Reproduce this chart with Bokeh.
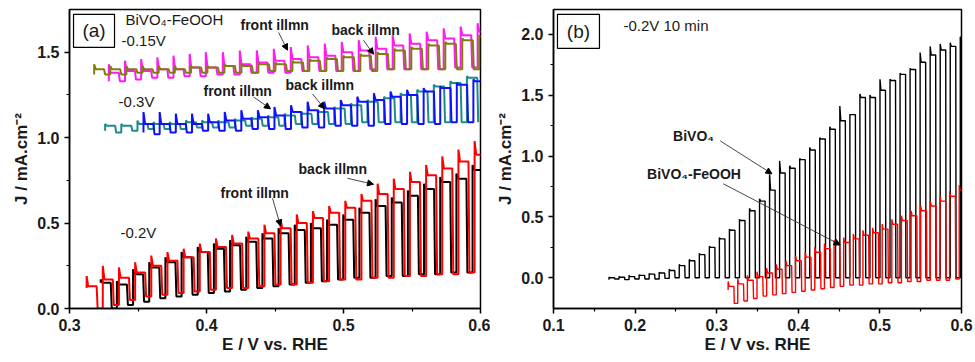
from bokeh.plotting import figure
from bokeh.models import FixedTicker, PrintfTickFormatter, Label, Arrow, NormalHead, Range1d
from bokeh.layouts import row
from bokeh.embed import file_html
from bokeh.resources import INLINE

# ---------------- Panel (a) data: per chopping cycle (light-on potential, dark, spike, plateau) ----------------
RA_on = [0.3125, 0.3243, 0.3361, 0.3479, 0.3597, 0.3715, 0.3833, 0.3951, 0.4069, 0.4187, 0.4305, 0.4423, 0.4541,
         0.4659, 0.4777, 0.4895, 0.5013, 0.5131, 0.5249, 0.5367, 0.5485, 0.5603, 0.5721, 0.5839, 0.5957]
RA_dark = [0.12, 0.00, 0.02, 0.05, 0.07, 0.08, 0.09, 0.10, 0.11, 0.12, 0.12, 0.13, 0.14, 0.14, 0.15, 0.16, 0.17,
           0.17, 0.18, 0.18, 0.19, 0.19, 0.20, 0.20, 0.21]
RA_peak = [0.19, 0.25, 0.24, 0.27, 0.31, 0.33, 0.35, 0.38, 0.41, 0.43, 0.45, 0.49, 0.52, 0.55, 0.57, 0.60, 0.63,
           0.67, 0.73, 0.76, 0.80, 0.84, 0.89, 0.93, 0.98]
RA_top = [0.13, 0.17, 0.18, 0.21, 0.25, 0.28, 0.30, 0.33, 0.36, 0.38, 0.41, 0.44, 0.47, 0.50, 0.53, 0.56, 0.59,
          0.63, 0.67, 0.70, 0.74, 0.78, 0.82, 0.86, 0.90]

BA_on = [0.3228, 0.3346, 0.3464, 0.3582, 0.3700, 0.3818, 0.3936, 0.4054, 0.4172, 0.4290, 0.4408, 0.4526, 0.4644,
         0.4762, 0.4880, 0.4998, 0.5116, 0.5234, 0.5352, 0.5470, 0.5588, 0.5706, 0.5824, 0.5942]
BA_dark = [0.15, 0.00, 0.02, 0.04, 0.06, 0.07, 0.08, 0.09, 0.10, 0.11, 0.12, 0.13, 0.14, 0.15, 0.16, 0.17, 0.18,
           0.18, 0.19, 0.19, 0.20, 0.20, 0.21, 0.21]
BA_peak = [0.17, 0.16, 0.23, 0.27, 0.30, 0.33, 0.36, 0.38, 0.40, 0.42, 0.44, 0.47, 0.49, 0.50, 0.52, 0.55, 0.59,
           0.64, 0.65, 0.69, 0.73, 0.77, 0.79, 0.84]
BA_top = [0.15, 0.14, 0.20, 0.24, 0.27, 0.30, 0.33, 0.35, 0.37, 0.39, 0.41, 0.44, 0.46, 0.47, 0.49, 0.52, 0.56,
          0.60, 0.62, 0.66, 0.70, 0.74, 0.76, 0.81]

MA_on = [0.3287, 0.3405, 0.3523, 0.3641, 0.3759, 0.3877, 0.3995, 0.4119, 0.4243, 0.4367, 0.4491, 0.4615, 0.4739,
         0.4863, 0.4987, 0.5111, 0.5235, 0.5359, 0.5483, 0.5607, 0.5731, 0.5855, 0.5979]
MA_dark = [1.33, 1.33, 1.34, 1.35, 1.35, 1.36, 1.36, 1.37, 1.37, 1.38, 1.38, 1.38, 1.39, 1.39, 1.39, 1.39, 1.40,
           1.40, 1.40, 1.40, 1.40, 1.41, 1.41]
MA_peak = [1.43, 1.45, 1.46, 1.47, 1.48, 1.49, 1.50, 1.50, 1.51, 1.51, 1.52, 1.53, 1.54, 1.55, 1.56, 1.57, 1.59,
           1.60, 1.61, 1.62, 1.64, 1.65, 1.67]
MA_top = [1.38, 1.39, 1.39, 1.40, 1.40, 1.41, 1.41, 1.42, 1.43, 1.44, 1.45, 1.46, 1.47, 1.48, 1.50, 1.51, 1.52,
          1.54, 1.55, 1.57, 1.58, 1.60, 1.62]

OA_on = [0.3180, 0.3297, 0.3415, 0.3533, 0.3651, 0.3769, 0.3887, 0.4007, 0.4131, 0.4255, 0.4379, 0.4503, 0.4627,
         0.4751, 0.4875, 0.4999, 0.5123, 0.5247, 0.5371, 0.5495, 0.5619, 0.5743, 0.5867, 0.5991]
OA_dark = [1.37, 1.37, 1.37, 1.38, 1.38, 1.38, 1.38, 1.38, 1.38, 1.38, 1.38, 1.39, 1.39, 1.39, 1.39, 1.39, 1.39,
           1.39, 1.40, 1.40, 1.40, 1.40, 1.40, 1.40]
OA_peak = [1.43, 1.42, 1.42, 1.42, 1.42, 1.42, 1.42, 1.42, 1.43, 1.43, 1.44, 1.44, 1.45, 1.46, 1.47, 1.48, 1.49,
           1.50, 1.52, 1.53, 1.55, 1.56, 1.58, 1.60]
OA_top = [1.40, 1.40, 1.40, 1.40, 1.40, 1.40, 1.41, 1.41, 1.42, 1.42, 1.43, 1.43, 1.44, 1.45, 1.46, 1.47, 1.48,
          1.49, 1.51, 1.52, 1.54, 1.55, 1.57, 1.59]

TA_on = [0.3260, 0.3378, 0.3496, 0.3614, 0.3732, 0.3850, 0.3968, 0.4086, 0.4207, 0.4328, 0.4449, 0.4570, 0.4691,
         0.4812, 0.4933, 0.5054, 0.5175, 0.5296, 0.5417, 0.5538, 0.5659, 0.5780, 0.5901]
TA_dark = [1.04, 1.03, 1.04, 1.05, 1.05, 1.05, 1.06, 1.06, 1.06, 1.07, 1.07, 1.07, 1.08, 1.08, 1.08, 1.08, 1.09,
           1.09, 1.09, 1.09, 1.09, 1.09, 1.09]
TA_peak = [1.08, 1.08, 1.10, 1.09, 1.09, 1.10, 1.10, 1.10, 1.11, 1.12, 1.13, 1.14, 1.15, 1.16, 1.18, 1.20, 1.22,
           1.24, 1.26, 1.28, 1.31, 1.33, 1.36]
TA_top = [1.07, 1.07, 1.08, 1.08, 1.08, 1.09, 1.09, 1.09, 1.10, 1.11, 1.12, 1.13, 1.14, 1.15, 1.17, 1.19, 1.21,
          1.23, 1.25, 1.27, 1.30, 1.32, 1.35]

BlA_on = [0.3540, 0.3658, 0.3776, 0.3894, 0.4012, 0.4133, 0.4254, 0.4375, 0.4496, 0.4617, 0.4738, 0.4859, 0.4980,
          0.5101, 0.5222, 0.5343, 0.5464, 0.5585, 0.5706, 0.5827, 0.5948]
BlA_dark = [1.03, 1.02, 1.03, 1.03, 1.04, 1.04, 1.04, 1.05, 1.05, 1.05, 1.06, 1.06, 1.07, 1.07, 1.07, 1.08, 1.08,
            1.08, 1.08, 1.09, 1.09]
BlA_peak = [1.15, 1.15, 1.14, 1.14, 1.14, 1.15, 1.16, 1.16, 1.18, 1.19, 1.21, 1.21, 1.22, 1.24, 1.26, 1.27, 1.28,
            1.29, 1.30, 1.32, 1.34]
BlA_top = [1.08, 1.08, 1.08, 1.08, 1.09, 1.10, 1.11, 1.12, 1.13, 1.15, 1.16, 1.17, 1.19, 1.21, 1.22, 1.24, 1.25,
           1.27, 1.29, 1.31, 1.33]

# ---------------- Panel (b) data ----------------
BB_on = [0.1680, 0.1803, 0.1926, 0.2049, 0.2172, 0.2295, 0.2418, 0.2541, 0.2664, 0.2787, 0.2910, 0.3033, 0.3156,
         0.3279, 0.3402, 0.3525, 0.3648, 0.3771, 0.3894, 0.4017, 0.4140, 0.4263, 0.4386, 0.4509, 0.4632, 0.4755,
         0.4878, 0.5001, 0.5124, 0.5247, 0.5370, 0.5493, 0.5616, 0.5739, 0.5862, 0.5985]
BB_dark = [-0.015, -0.010, -0.015, -0.010, -0.010, -0.010, -0.005, 0.0, 0.0, 0.0, 0.0, 0.0, 0.0, 0.0, 0.0, 0.0, 0.0,
           0.0, 0.0, 0.0, 0.0, 0.0, 0.0, 0.0, 0.0, 0.0, 0.0, 0.0, 0.0, 0.0, 0.0, 0.0, 0.0, 0.0, 0.0, 0.0]
BB_peak = [0.005, 0.010, 0.020, 0.025, 0.035, 0.045, 0.070, 0.110, 0.150, 0.200, 0.260, 0.330, 0.400, 0.480, 0.570,
           0.650, 0.850, 0.960, 0.920, 0.980, 1.070, 1.150, 1.240, 1.410, 1.340, 1.510, 1.500, 1.630, 1.630, 1.680,
           1.720, 1.850, 1.900, 1.920, 1.930, 1.980]
BB_top = [0.000, 0.005, 0.010, 0.020, 0.030, 0.040, 0.060, 0.100, 0.140, 0.190, 0.250, 0.320, 0.390, 0.470, 0.550,
          0.630, 0.720, 0.860, 0.900, 0.970, 1.050, 1.140, 1.220, 1.290, 1.340, 1.480, 1.480, 1.540, 1.620, 1.670,
          1.710, 1.770, 1.830, 1.870, 1.900, 1.940]

RB_on = [0.3140, 0.3258, 0.3376, 0.3494, 0.3612, 0.3730, 0.3848, 0.3966, 0.4084, 0.4202, 0.4320, 0.4438, 0.4556,
         0.4674, 0.4792, 0.4910, 0.5028, 0.5146, 0.5264, 0.5382, 0.5500, 0.5618, 0.5736, 0.5854, 0.5972]
RB_dark = [-0.10, -0.21, -0.19, -0.17, -0.15, -0.14, -0.13, -0.12, -0.11, -0.10, -0.09, -0.08, -0.07, -0.06, -0.06,
           -0.05, -0.05, -0.04, -0.04, -0.03, -0.03, -0.02, -0.02, -0.02, -0.01]
RB_peak = [-0.03, -0.01, 0.02, 0.05, 0.08, 0.11, 0.14, 0.18, 0.21, 0.25, 0.28, 0.31, 0.33, 0.36, 0.39, 0.41, 0.44,
           0.48, 0.51, 0.55, 0.59, 0.63, 0.67, 0.71, 0.76]
RB_top = [-0.07, -0.05, -0.02, 0.01, 0.04, 0.07, 0.10, 0.14, 0.17, 0.21, 0.24, 0.27, 0.29, 0.32, 0.35, 0.37, 0.40,
          0.44, 0.47, 0.51, 0.55, 0.59, 0.63, 0.67, 0.72]

# Tick values
A_XTICKS = [0.3, 0.4, 0.5, 0.6]
A_XMINOR = [0.35, 0.45, 0.55]
A_YTICKS = [0.0, 0.5, 1.0, 1.5]
A_YMINOR = [0.25, 0.75, 1.25]
B_XTICKS = [0.1, 0.2, 0.3, 0.4, 0.5, 0.6]
B_XMINOR = [0.15, 0.25, 0.35, 0.45, 0.55]
B_YTICKS = [0.0, 0.5, 1.0, 1.5, 2.0]
B_YMINOR = [0.25, 0.75, 1.25, 1.75]

FONT = "Liberation Sans"


def chop(on, dark, peak, top, duty, fall):
    """Build the chopped-light trace from per-cycle values."""
    xs, ys = [], []
    n = len(on)
    for i in range(n):
        per = on[i + 1] - on[i] if i < n - 1 else on[i] - on[i - 1]
        nd = dark[i + 1] if i < n - 1 else dark[i]
        x0 = on[i]
        x1 = x0 + duty * per
        xs += [x0, x0, x0 + 0.1 * per, x1, x1 + fall * per]
        ys += [dark[i], peak[i], top[i], top[i], nd]
    return xs, ys


def style(p, xt, xm, yt, ym):
    p.xaxis.ticker = FixedTicker(ticks=xt, minor_ticks=xm)
    p.yaxis.ticker = FixedTicker(ticks=yt, minor_ticks=ym)
    p.xaxis.formatter = PrintfTickFormatter(format="%.1f")
    p.yaxis.formatter = PrintfTickFormatter(format="%.1f")
    for ax in (p.xaxis[0], p.yaxis[0]):
        ax.axis_line_width = 1.5
        ax.axis_line_color = "black"
        ax.major_tick_line_width = 1.5
        ax.minor_tick_line_width = 1.2
        ax.major_tick_out = 5
        ax.major_tick_in = 0
        ax.minor_tick_out = 3
        ax.minor_tick_in = 0
        ax.major_label_text_font = FONT
        ax.major_label_text_font_style = "bold"
        ax.major_label_text_font_size = "16px"
        ax.major_label_text_color = "#1a1a1a"
        ax.axis_label_text_font = FONT
        ax.axis_label_text_font_style = "bold"
        ax.axis_label_text_font_size = "17px"
        ax.axis_label_text_color = "#1a1a1a"
        ax.major_label_standoff = 5
    p.xaxis.axis_label_standoff = 1
    p.yaxis.axis_label_standoff = 3
    p.xgrid.visible = False
    p.ygrid.visible = False
    p.outline_line_color = "black"
    p.outline_line_width = 1.5
    p.outline_line_alpha = 1.0
    p.background_fill_color = "white"
    p.border_fill_color = "white"


def label(p, x, y, text, size="14px", bold=False, align="left"):
    p.add_layout(Label(x=x, y=y, text=text, text_font=FONT, text_font_size=size,
                       text_font_style="bold" if bold else "normal", text_color="#1a1a1a",
                       text_baseline="middle", text_align=align))


def arrow(p, x0, y0, x1, y1):
    p.add_layout(Arrow(end=NormalHead(size=6, fill_color="black", line_color="black", line_width=1),
                       x_start=x0, y_start=y0, x_end=x1, y_end=y1,
                       line_color="#333333", line_width=0.9))


# ---------------- Panel (a) ----------------
pa = figure(width=490, height=362, output_backend="svg", toolbar_location=None,
            x_range=Range1d(0.3, 0.6), y_range=Range1d(0.0, 1.75),
            min_border_left=69, min_border_right=10, min_border_top=7, min_border_bottom=54,
            x_axis_label="E / V vs. RHE", y_axis_label="J / mA.cm\u207b\u00b2")
style(pa, A_XTICKS, A_XMINOR, A_YTICKS, A_YMINOR)

LW_A = 2.0
for on, dk, pk, tp, col in [(TA_on, TA_dark, TA_peak, TA_top, "#1f8c8c"),
                            (BlA_on, BlA_dark, BlA_peak, BlA_top, "#1010ff"),
                            (MA_on, MA_dark, MA_peak, MA_top, "#ff1cf0"),
                            (OA_on, OA_dark, OA_peak, OA_top, "#7f7d10"),
                            (BA_on, BA_dark, BA_peak, BA_top, "#000000"),
                            (RA_on, RA_dark, RA_peak, RA_top, "#ff0000")]:
    xs, ys = chop(on, dk, pk, tp, 0.62, 0.06)
    pa.line(xs, ys, line_color=col, line_width=LW_A)

pa.rect(x=0.3179, y=1.625, width=41, height=33, width_units="screen", height_units="screen",
        fill_color=None, line_color="black", line_width=1.2)
label(pa, 0.3179, 1.625, "(a)", size="19px", align="center")
label(pa, 0.3409, 1.692, "BiVO\u2084-FeOOH", size="15px")
label(pa, 0.3380, 1.570, "-0.15V", size="15px")
label(pa, 0.4248, 1.657, "front illmn", size="14px", bold=True)
label(pa, 0.4912, 1.628, "back illmn", size="14px", bold=True)
arrow(pa, 0.4526, 1.616, 0.4591, 1.512)
arrow(pa, 0.5146, 1.570, 0.5219, 1.488)
label(pa, 0.3358, 1.209, "-0.3V", size="15px")
label(pa, 0.3978, 1.273, "front illmn", size="14px", bold=True)
label(pa, 0.4577, 1.308, "back illmn", size="14px", bold=True)
arrow(pa, 0.4343, 1.238, 0.4467, 1.169)
arrow(pa, 0.4774, 1.256, 0.4861, 1.169)
label(pa, 0.4672, 0.814, "back illmn", size="14px", bold=True)
arrow(pa, 0.5029, 0.762, 0.5219, 0.727)
label(pa, 0.4102, 0.674, "front illmn", size="14px", bold=True)
arrow(pa, 0.4482, 0.645, 0.4540, 0.483)
label(pa, 0.3372, 0.442, "-0.2V", size="15px")

# ---------------- Panel (b) ----------------
pb = figure(width=485, height=362, output_backend="svg", toolbar_location=None,
            x_range=Range1d(0.1, 0.6), y_range=Range1d(-0.252, 2.203),
            min_border_left=63, min_border_right=14, min_border_top=9, min_border_bottom=51,
            x_axis_label="E / V vs. RHE", y_axis_label="J / mA.cm\u207b\u00b2")
style(pb, B_XTICKS, B_XMINOR, B_YTICKS, B_YMINOR)

xs, ys = chop(BB_on, BB_dark, BB_peak, BB_top, 0.55, 0.03)
pb.line(xs, ys, line_color="black", line_width=1.4)
xs, ys = chop(RB_on, RB_dark, RB_peak, RB_top, 0.6, 0.04)
pb.line(xs, ys, line_color="#ff0000", line_width=1.4)

pb.rect(x=0.1306, y=2.024, width=42, height=34, width_units="screen", height_units="screen",
        fill_color=None, line_color="black", line_width=1.2)
label(pb, 0.1306, 2.024, "(b)", size="19px", align="center")
label(pb, 0.1857, 2.073, "-0.2V 10 min", size="15px")
label(pb, 0.2465, 1.163, "BiVO\u2084", size="14px", bold=True)
arrow(pb, 0.3044, 1.124, 0.3677, 0.854)
label(pb, 0.2147, 0.854, "BiVO\u2084-FeOOH", size="14px", bold=True)
arrow(pb, 0.3081, 0.772, 0.4513, 0.271)

layout = row(pa, pb)
open("out.html", "w").write(file_html(layout, INLINE))
